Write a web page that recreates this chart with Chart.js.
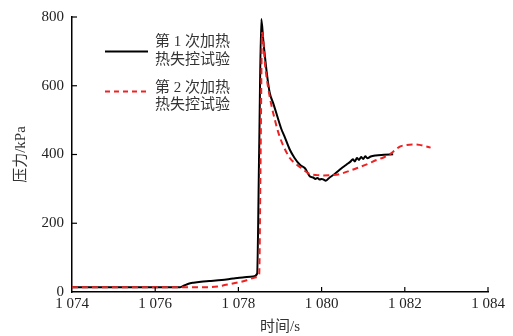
<!DOCTYPE html>
<html><head><meta charset="utf-8">
<script src="https://cdn.jsdelivr.net/npm/chart.js@4/dist/chart.umd.min.js"></script>
<style>html,body{margin:0;padding:0;background:#fff}#wrap{width:513px;height:336px}</style>
</head><body><div id="wrap"><canvas id="c" width="513" height="336"></canvas></div>
<script>
const run1Time = [1074,1076.6,1076.7,1076.8,1076.92,1077.1,1077.3,1077.6,1077.87,1078.1,1078.35,1078.45,1078.5,1078.55,1078.6,1078.68,1078.75,1078.84,1078.9,1079.03,1079.1,1079.24,1079.35,1079.48,1079.6,1079.72,1079.8,1079.85,1079.9,1079.95,1080.0,1080.05,1080.1,1080.2,1080.29,1080.4,1080.5,1080.6,1080.7,1080.75,1080.8,1080.85,1080.9,1080.95,1081.0,1081.05,1081.1,1081.18,1081.3,1081.5,1081.72];
const run1Pressure = [14,14,19,24,27,30,32,35,39,42,45,53,420,794,730,640,581,548,525,475,455,413,390,370,360,336,333,329,332,327,329,327,324,334,341,352,362,371,380,386,380,390,384,393,387,395,389,394,397,399,401];
const run2Time = [1074,1076.7,1077.2,1077.5,1077.7,1078.0,1078.2,1078.43,1078.5,1078.53,1078.57,1078.65,1078.75,1078.87,1078.97,1079.07,1079.24,1079.38,1079.52,1079.72,1079.9,1080.05,1080.25,1080.43,1080.84,1081.1,1081.32,1081.5,1081.64,1081.76,1081.88,1082.0,1082.2,1082.35,1082.52,1082.62];
const run2Pressure = [14,14,14,16,21,28,34,43,52,350,754,650,570,504,460,428,389,373,360,343,340,339,340,343,360,372,384,392,401,412,423,427,429,428,423,420];
const xTicks = [1074,1076,1078,1080,1082,1084];
const yTicks = [0,200,400,600,800];
const seriesNames = [["第 1 次加热","热失控试验"],["第 2 次加热","热失控试验"]];
const axisTitles = {x:"时间/s", y:"压力/kPa"};

const serif = "'Liberation Serif','DejaVu Serif',serif";
const cjk = "'Liberation Serif','Noto Sans CJK SC',serif";
const fmt = v => { const s = String(Math.round(v)); return s.length > 3 ? s.slice(0, s.length-3) + ' ' + s.slice(-3) : s; };

const innerTicks = {
  id: 'innerTicks',
  afterDraw(chart) {
    const {ctx, scales:{x, y}, chartArea:a} = chart;
    ctx.save();
    ctx.strokeStyle = '#000'; ctx.lineWidth = 1.2;
    xTicks.forEach(v => { if (v === xTicks[0]) return; const px = x.getPixelForValue(v);
      ctx.beginPath(); ctx.moveTo(px, a.bottom); ctx.lineTo(px, a.bottom - 5); ctx.stroke(); });
    yTicks.forEach(v => { if (v === yTicks[0]) return; const py = y.getPixelForValue(v);
      ctx.beginPath(); ctx.moveTo(a.left, py); ctx.lineTo(a.left + 5, py); ctx.stroke(); });
    ctx.restore();
  }
};
const legendPlugin = {
  id: 'customLegend',
  afterDraw(chart) {
    const ctx = chart.ctx;
    const items = [
      {color:'#000', dash:[], y:51.5, ty:[42,60]},
      {color:'#ee2222', dash:[5,4], y:91.5, ty:[88,105.5]}
    ];
    ctx.save();
    items.forEach((it, i) => {
      ctx.strokeStyle = it.color; ctx.lineWidth = 2; ctx.setLineDash(it.dash);
      ctx.beginPath(); ctx.moveTo(105, it.y); ctx.lineTo(148, it.y); ctx.stroke();
      ctx.setLineDash([]);
      ctx.fillStyle = '#333'; ctx.font = "15px " + cjk; ctx.textBaseline = 'middle'; ctx.textAlign = 'left';
      seriesNames[i].forEach((t, k) => ctx.fillText(t, 155, it.ty[k]));
    });
    ctx.restore();
  }
};

new Chart(document.getElementById('c'), {
  type: 'line',
  data: {
    datasets: [
      {label: seriesNames[1].join(''), data: run2Time.map((t,i)=>({x:t, y:run2Pressure[i]})), borderColor:'#ee2222', borderWidth:2, borderDash:[6,4], pointRadius:0, cubicInterpolationMode:'monotone', order:0},
      {label: seriesNames[0].join(''), data: run1Time.map((t,i)=>({x:t, y:run1Pressure[i]})), borderColor:'#000', borderWidth:2, pointRadius:0, cubicInterpolationMode:'monotone', order:1}
    ]
  },
  options: {
    responsive:false, animation:false, devicePixelRatio:1,
    layout:{padding:{left:0, top:14, right:25, bottom:0}},
    plugins:{legend:{display:false}, tooltip:{enabled:false}},
    scales:{
      x:{type:'linear', min:1074, max:1084,
        afterBuildTicks: s => { s.ticks = xTicks.map(v=>({value:v})); },
        afterFit: s => { s.height = 44; },
        ticks:{callback: v => fmt(v), color:'#222', font:{family:serif, size:15}, padding:3, maxRotation:0},
        grid:{display:false, drawTicks:false},
        border:{display:true, color:'#000', width:1.5},
        title:{display:true, text:axisTitles.x, color:'#333', font:{family:cjk, size:15}, padding:{top:0,bottom:0}}
      },
      y:{min:0, max:800,
        afterBuildTicks: s => { s.ticks = yTicks.map(v=>({value:v})); },
        afterFit: s => { s.width = 72; },
        ticks:{color:'#222', font:{family:serif, size:15}, padding:8},
        grid:{display:false, drawTicks:false},
        border:{display:true, color:'#000', width:1.5},
        title:{display:true, text:axisTitles.y, color:'#333', font:{family:cjk, size:15}, padding:{top:12,bottom:0}}
      }
    }
  },
  plugins:[innerTicks, legendPlugin]
});
</script></body></html>
